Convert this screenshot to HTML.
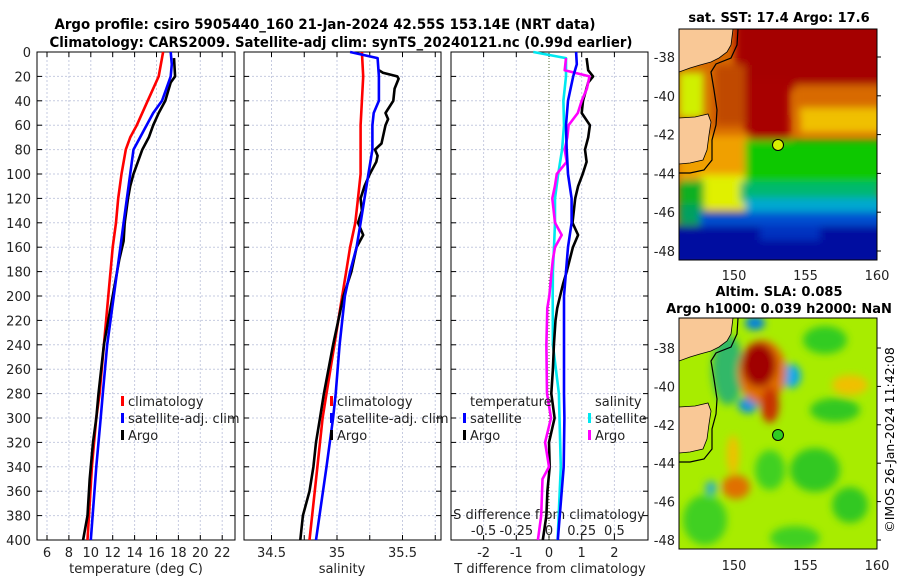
<!DOCTYPE html>
<html><head><meta charset="utf-8"><style>
html,body{margin:0;padding:0;background:#fff;}
svg{display:block;font-family:"DejaVu Sans","Liberation Sans",sans-serif;}
</style></head><body>
<svg id="fig" width="900" height="580" viewBox="0 0 900 580" xmlns="http://www.w3.org/2000/svg">
<defs>
<filter id="blur1" x="-20%" y="-20%" width="140%" height="140%"><feGaussianBlur stdDeviation="4"/></filter>
<filter id="blur2" x="-20%" y="-20%" width="140%" height="140%"><feGaussianBlur stdDeviation="4"/></filter>
<clipPath id="clipM1"><rect x="679" y="29" width="198" height="231"/></clipPath>
<clipPath id="clipM2"><rect x="679" y="318" width="198" height="231"/></clipPath>
</defs>
<text x="325" y="29" font-size="14" font-weight="bold" text-anchor="middle" textLength="541" lengthAdjust="spacingAndGlyphs">Argo profile: csiro 5905440_160 21-Jan-2024 42.55S 153.14E (NRT data)</text>
<text x="341" y="47" font-size="14" font-weight="bold" text-anchor="middle" textLength="583" lengthAdjust="spacingAndGlyphs">Climatology: CARS2009. Satellite-adj clim: synTS_20240121.nc (0.99d earlier)</text>
<g id="plots"></g>

<!-- SST map -->
<g clip-path="url(#clipM1)">
<rect x="679" y="29" width="198" height="231" fill="#d86a00"/>
<g filter="url(#blur1)">
<rect x="735" y="20" width="155" height="70" fill="#a50000"/>
<rect x="745" y="80" width="45" height="60" fill="#a80000"/>
<rect x="715" y="65" width="30" height="60" fill="#c04800"/>
<rect x="795" y="85" width="90" height="30" fill="#d86a00"/>
<rect x="800" y="108" width="85" height="25" fill="#f0c000"/>
<rect x="679" y="72" width="25" height="46" fill="#d0f000"/>
<rect x="679" y="135" width="70" height="50" fill="#f0a000"/>
<rect x="700" y="175" width="45" height="35" fill="#e0f000"/>
<rect x="745" y="140" width="140" height="45" fill="#10c800"/>
<rect x="679" y="180" width="25" height="35" fill="#10b020"/>
<rect x="740" y="182" width="140" height="20" fill="#00b870"/>
<rect x="745" y="198" width="140" height="20" fill="#00a8d0"/>
<rect x="679" y="205" width="25" height="20" fill="#00a060"/>
<rect x="700" y="212" width="190" height="20" fill="#0050d0"/>
<rect x="670" y="226" width="220" height="40" fill="#0010a0"/>
<rect x="760" y="225" width="60" height="15" fill="#0030c0"/>
</g>
<g id="land1"></g>
<circle cx="778" cy="145" r="5.5" fill="#d8f000" stroke="#000" stroke-width="1"/>
</g>
<rect x="679" y="29" width="198" height="231" fill="none" stroke="#000" stroke-width="1"/>

<!-- SLA map -->
<g clip-path="url(#clipM2)">
<rect x="679" y="318" width="198" height="231" fill="#a8ec00"/>
<g filter="url(#blur2)">
<ellipse cx="825" cy="340" rx="22" ry="14" fill="#30cc20"/>
<ellipse cx="850" cy="385" rx="18" ry="10" fill="#f0c000"/>
<ellipse cx="835" cy="410" rx="25" ry="12" fill="#30c820"/>
<ellipse cx="815" cy="470" rx="25" ry="22" fill="#30c820"/>
<ellipse cx="770" cy="470" rx="15" ry="20" fill="#40d020"/>
<ellipse cx="705" cy="520" rx="22" ry="25" fill="#40d020"/>
<ellipse cx="850" cy="505" rx="18" ry="18" fill="#30c820"/>
<ellipse cx="795" cy="538" rx="25" ry="12" fill="#40d020"/>
<ellipse cx="728" cy="370" rx="16" ry="35" fill="#30b868"/>
<ellipse cx="755" cy="323" rx="10" ry="7" fill="#0080e0"/>
<ellipse cx="791" cy="376" rx="10" ry="12" fill="#10a8e8"/>
<ellipse cx="748" cy="405" rx="10" ry="8" fill="#1090e0"/>
<ellipse cx="711" cy="488" rx="6" ry="7" fill="#30b0c0"/>
<ellipse cx="762" cy="372" rx="24" ry="32" fill="#e07000"/>
<ellipse cx="770" cy="405" rx="9" ry="18" fill="#c83000"/>
<ellipse cx="759" cy="365" rx="17" ry="22" fill="#a00000"/>
<ellipse cx="736" cy="487" rx="14" ry="12" fill="#e07000"/>
<ellipse cx="733" cy="455" rx="6" ry="20" fill="#f0c000"/>
</g>
<g id="land2" transform="translate(0,289)"></g>
<circle cx="778" cy="435" r="5.5" fill="#30cc20" stroke="#000" stroke-width="1"/>
</g>
<rect x="679" y="318" width="198" height="231" fill="none" stroke="#000" stroke-width="1"/>

<text x="779" y="22" font-size="13" font-weight="bold" text-anchor="middle">sat. SST: 17.4 Argo: 17.6</text>
<text x="779" y="296" font-size="13" font-weight="bold" text-anchor="middle">Altim. SLA: 0.085</text>
<text x="779" y="313" font-size="13" font-weight="bold" text-anchor="middle">Argo h1000: 0.039 h2000: NaN</text>
<text transform="translate(894,440) rotate(-90)" font-size="12.5" text-anchor="middle">©IMOS 26-Jan-2024 11:42:08</text>
<g id="mapticks"></g>
</svg>
<script>
// ---- data ----
const tClimDepth=[0,20,40,60,70,80,100,120,140,160,180,200,240,280,300,340,400];
const tClimVal=[16.6,16.2,15.2,14.2,13.6,13.2,12.8,12.5,12.3,12.0,11.8,11.6,11.2,10.8,10.5,10.1,9.7];
const tSatDepth=[0,10,20,30,40,50,60,70,80,100,120,140,160,180,200,220,240,260,280,300,340,400];
const tSatVal=[17.3,17.4,17.3,16.9,16.5,15.7,15.1,14.5,13.9,13.6,13.3,13.0,12.7,12.4,12.1,11.8,11.5,11.3,11.1,10.9,10.5,10.0];
const tArgoDepth=[5,20,25,40,50,60,70,80,90,100,110,120,140,155,170,190,210,240,280,300,320,340,350,380,400];
const tArgoVal=[17.6,17.7,17.3,16.8,16.2,15.7,15.3,14.7,14.3,13.9,13.6,13.4,13.1,13.0,12.6,12.2,11.8,11.2,10.7,10.5,10.2,10.0,9.9,9.7,9.3];
const sClimDepth=[0,20,40,60,80,100,120,140,160,180,200,240,280,300,340,400];
const sClimVal=[35.19,35.20,35.19,35.18,35.18,35.18,35.16,35.14,35.10,35.07,35.04,34.98,34.92,34.89,34.85,34.79];
const sSatDepth=[0,5,20,40,50,60,80,100,120,140,160,180,200,240,280,300,340,400];
const sSatVal=[35.10,35.31,35.32,35.32,35.28,35.27,35.27,35.24,35.21,35.18,35.15,35.10,35.06,35.02,34.99,34.97,34.92,34.84];
const sArgoDepth=[15,17,20,22,30,40,50,55,60,75,80,85,90,100,110,120,130,140,150,160,180,200,240,280,300,320,340,360,380,400];
const sArgoVal=[35.32,35.35,35.46,35.47,35.44,35.43,35.37,35.39,35.37,35.34,35.29,35.31,35.30,35.25,35.21,35.18,35.19,35.16,35.20,35.15,35.11,35.05,34.97,34.90,34.87,34.84,34.82,34.79,34.74,34.72];
const dTSatDepth=[0,10,20,40,60,80,100,120,140,160,180,200,240,280,300,340,400];
const dTSatVal=[0.83,0.85,0.74,0.58,0.52,0.54,0.58,0.69,0.69,0.58,0.52,0.46,0.46,0.46,0.47,0.45,0.27];
const dTArgoDepth=[5,15,20,25,40,50,60,70,80,90,100,110,120,140,150,160,180,190,200,210,220,240,260,280,300,320,340,360,380,400];
const dTArgoVal=[1.15,1.2,1.35,1.2,1.04,1.0,1.25,1.2,1.1,1.15,1.03,0.89,0.8,0.72,0.89,0.73,0.54,0.43,0.34,0.25,0.2,0.15,0.12,0.07,0.17,0.0,0.02,-0.05,-0.08,-0.19];
const dSSatDepth=[0,5,20,40,60,80,100,120,140,160,180,200,240,280,300,340,400];
const dSSatVal=[-0.12,0.13,0.13,0.11,0.115,0.10,0.07,0.046,0.046,0.038,0.03,0.028,0.03,0.076,0.08,0.09,0.066];
const dSArgoDepth=[5,15,20,30,40,50,60,70,80,90,100,110,120,140,150,160,170,180,200,210,240,280,300,320,340,350,380,400];
const dSArgoVal=[0.13,0.12,0.31,0.29,0.25,0.22,0.15,0.14,0.12,0.135,0.06,0.045,0.025,0.046,0.097,0.046,0.03,0.02,0.002,-0.013,-0.02,-0.015,0.015,-0.03,0.0,-0.05,-0.06,-0.085];
const depthTicks=[0,20,40,60,80,100,120,140,160,180,200,220,240,260,280,300,320,340,360,380,400];
const tTicks=[6,8,10,12,14,16,18,20,22];
const sTicks=[34.5,35,35.5];
const dTTicks=[-2,-1,0,1,2];
const dSTickLabels=["-0.5","-0.25","0","0.25","0.5"];
const dSTicks=[-0.5,-0.25,0,0.25,0.5];

// ---- axes ----
const Y0=52,Y1=540;
const yD=d=>Y0+d*(Y1-Y0)/400;
const xT=t=>47+(t-6)*10.95;
const xS=s=>337+(s-35)*131;
const xD=v=>549+v*32.7;
const xSD=v=>549+v*130.8;
const panels=[{x0:37,x1:235},{x0:244,x1:441},{x0:451,x1:648}];
const NS='http://www.w3.org/2000/svg';
const g=document.getElementById('plots');
function mk(tag,attrs,parent){const e=document.createElementNS(NS,tag);for(const k in attrs)e.setAttribute(k,attrs[k]);(parent||g).appendChild(e);return e;}
function txt(s,attrs,parent){const e=mk('text',attrs,parent);e.textContent=s;return e;}

panels.forEach((p,i)=>{
  const fr=mk('g',{});
  
  
  depthTicks.forEach(d=>{
    if(d>0&&d<400){mk('line',{x1:p.x0,x2:p.x1,y1:yD(d),y2:yD(d),stroke:'#c6cbe0','stroke-width':1,'stroke-dasharray':'2,2'},fr);}
    mk('line',{x1:p.x0,x2:p.x0+5,y1:yD(d),y2:yD(d),stroke:'#000'},fr);
    mk('line',{x1:p.x1-5,x2:p.x1,y1:yD(d),y2:yD(d),stroke:'#000'},fr);
  });
  let ticks,fx;
  if(i==0){ticks=tTicks;fx=xT;} else if(i==1){ticks=[34.25,34.5,34.75,35,35.25,35.5,35.75];fx=xS;} else {ticks=[-3,-2,-1,0,1,2,3];fx=xD;}
  ticks.forEach(t=>{const x=fx(t);if(x<=p.x0+1||x>=p.x1-1)return;
    if(!(i==2&&t==0))mk('line',{x1:x,x2:x,y1:Y0,y2:Y1,stroke:'#c6cbe0','stroke-width':1,'stroke-dasharray':'2,2'},fr);
    mk('line',{x1:x,x2:x,y1:Y1-5,y2:Y1,stroke:'#000'},fr);
    mk('line',{x1:x,x2:x,y1:Y0,y2:Y0+5,stroke:'#000'},fr);
  });
  mk('rect',{x:p.x0,y:Y0,width:p.x1-p.x0,height:Y1-Y0,fill:'none',stroke:'#000','stroke-width':1},fr);
});
depthTicks.forEach(d=>{const t=txt(String(d),{x:31,y:yD(d)+5,'font-size':13,'text-anchor':'end',fill:'#222'});
  });
tTicks.forEach(v=>{const t=txt(String(v),{x:xT(v),y:557,'font-size':13,'text-anchor':'middle',fill:'#222'});});
sTicks.forEach(v=>{const t=txt(String(v),{x:xS(v),y:557,'font-size':13,'text-anchor':'middle',fill:'#222'});});
dTTicks.forEach(v=>{const t=txt(String(v),{x:xD(v),y:557,'font-size':13,'text-anchor':'middle',fill:'#222'});});
dSTicks.forEach((v,k)=>{const t=txt(dSTickLabels[k],{x:xSD(v),y:535,'font-size':13,'text-anchor':'middle',fill:'#222'});});
let at;
at=txt('temperature (deg C)',{x:136,y:573,'font-size':13,'text-anchor':'middle',fill:'#222'});
at=txt('salinity',{x:342,y:573,'font-size':13,'text-anchor':'middle',fill:'#222'});
at=txt('T difference from climatology',{x:550,y:573,'font-size':13,'text-anchor':'middle',fill:'#222'});
at=txt('S difference from climatology',{x:549,y:519,'font-size':13,'text-anchor':'middle',fill:'#222'});

const zl=mk('line',{x1:xD(0),x2:xD(0),y1:Y0,y2:Y1,stroke:'#556b2f','stroke-width':1,'stroke-dasharray':'1,2'});


function series(depths,vals,fx,color,name){
  const pts=depths.map((d,k)=>fx(vals[k]).toFixed(1)+','+yD(d).toFixed(1)).join(' ');
  const e=mk('polyline',{points:pts,fill:'none',stroke:color,'stroke-width':2.6,'stroke-linejoin':'round'});
  
  
}
series(tClimDepth,tClimVal,xT,'#ff0000','temperature-climatology-line');
series(tArgoDepth,tArgoVal,xT,'#000000','temperature-argo-line');
series(tSatDepth,tSatVal,xT,'#0000ff','temperature-satellite-line');
series(sClimDepth,sClimVal,xS,'#ff0000','salinity-climatology-line');
series(sArgoDepth,sArgoVal,xS,'#000000','salinity-argo-line');
series(sSatDepth,sSatVal,xS,'#0000ff','salinity-satellite-line');
series(dSSatDepth,dSSatVal,xSD,'#00e8f0','s-diff-satellite-line');
series(dTArgoDepth,dTArgoVal,xD,'#000000','t-diff-argo-line');
series(dSArgoDepth,dSArgoVal,xSD,'#ff00ff','s-diff-argo-line');
series(dTSatDepth,dTSatVal,xD,'#0000ff','t-diff-satellite-line');

function legend(x,y,color,label,name){
  const lg=mk('g',{});
  
  
  mk('rect',{x:x,y:y-10,width:3,height:10,fill:color},lg);
  txt(label,{x:x+7,y:y,'font-size':13,fill:'#222'},lg);
}
legend(121,406,'#ff0000','climatology','legend-climatology');
legend(121,423,'#0000ff','satellite-adj. clim','legend-satellite-adj');
legend(121,440,'#000000','Argo','legend-argo');
legend(330,406,'#ff0000','climatology','legend-climatology-salinity');
legend(330,423,'#0000ff','satellite-adj. clim','legend-satellite-adj-salinity');
legend(330,440,'#000000','Argo','legend-argo-salinity');
at=txt('temperature',{x:470,y:406,'font-size':13,fill:'#222'});
at=txt('salinity',{x:595,y:406,'font-size':13,fill:'#222'});
legend(463,423,'#0000ff','satellite','legend-t-satellite');
legend(463,440,'#000000','Argo','legend-t-argo');
legend(588,423,'#00e8f0','satellite','legend-s-satellite');
legend(588,440,'#ff00ff','Argo','legend-s-argo');

function land(id){
  const p=document.getElementById(id);
  mk('polygon',{points:'679,29 733,29 731,45 727,52 719,58 711,62 700,65 690,68 679,72',fill:'#f9c896'},p);
  mk('polygon',{points:'679,118 695,117 708,114 711,122 709,135 707,150 703,160 690,163 679,164',fill:'#f9c896'},p);
  mk('polyline',{points:'738,29 737,45 731,58 716,64 711,72 714,90 717,110 716,125 712,140 712,160 704,170 690,173 679,173',fill:'none',stroke:'#000','stroke-width':1.2},p);
  mk('polyline',{points:'733,29 731,45 727,52 719,58 711,62 700,65 690,68 679,72',fill:'none',stroke:'#000','stroke-width':0.8},p);
  mk('polyline',{points:'679,118 695,117 708,114 711,122 709,135 707,150 703,160 690,163 679,164',fill:'none',stroke:'#000','stroke-width':0.8},p);
}
land('land1');land('land2');
const mt=document.getElementById('mapticks');
const latTicks=[-38,-40,-42,-44,-46,-48];
const lonTicks=[150,155,160];
latTicks.forEach((v,k)=>{
  const y1=57+k*38.8, y2=348+k*38.4;
  let t=txt(String(v),{x:675,y:y1+5,'font-size':13,'text-anchor':'end',fill:'#222'},mt);
  t=txt(String(v),{x:675,y:y2+5,'font-size':13,'text-anchor':'end',fill:'#222'},mt);
  mk('line',{x1:877,x2:881,y1:y1,y2:y1,stroke:'#000'},mt);
  mk('line',{x1:877,x2:881,y1:y2,y2:y2,stroke:'#000'},mt);
});
lonTicks.forEach(v=>{
  const x=734+(v-150)*14.3;
  let t=txt(String(v),{x:x,y:280,'font-size':13,'text-anchor':'middle',fill:'#222'},mt);
  t=txt(String(v),{x:x,y:570,'font-size':13,'text-anchor':'middle',fill:'#222'},mt);
});
</script>
</body></html>
